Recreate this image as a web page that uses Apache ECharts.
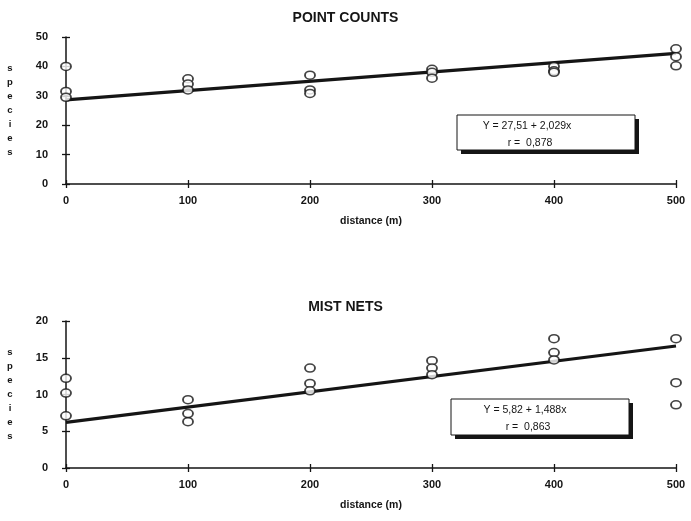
<!DOCTYPE html>
<html><head><meta charset="utf-8">
<script src="https://cdn.jsdelivr.net/npm/echarts/dist/echarts.min.js"></script>
<style>html,body{margin:0;padding:0;background:#fff}#c{width:691px;height:521px}</style>
</head><body><div id="c"></div>
<script>
// ---- data ----
const distances = [0, 100, 200, 300, 400, 500];
// POINT COUNTS (three replicate counts per distance)
const pcRep1 = [40, 35.8, 37, 39, 40, 46];
const pcRep2 = [31.5, 34, 32, 38, 38.5, 43.3];
const pcRep3 = [29.5, 32, 30.8, 36, 38, 40.2];
const pcFitX = [0, 500];
const pcFitY = [28.6, 44.4];
const pcEquation = ['Y = 27,51 + 2,029x', 'r =  0,878'];
// MIST NETS
const mnRep1 = [12.2, 9.3, 13.6, 14.6, 17.6, 17.6];
const mnRep2 = [10.2, 7.4, 11.5, 13.6, 15.7, 11.6];
const mnRep3 = [7.1, 6.3, 10.5, 12.7, 14.7, 8.6];
const mnFitX = [0, 500];
const mnFitY = [6.2, 16.6];
const mnEquation = ['Y = 5,82 + 1,488x', 'r =  0,863'];
const titles = ['POINT COUNTS', 'MIST NETS'];
const xName = 'distance (m)';
const yName = 'species';

// ---- build ----
const FONT = "'Liberation Sans', Arial, sans-serif";
const INK = '#151515';
function pts(reps) {
  const out = [];
  reps.forEach(r => r.forEach((v, i) => out.push([distances[i], v])));
  return out;
}
function pairs(xs, ys) { return xs.map((x, i) => [x, ys[i]]); }

const grids = [
  { left: 66, right: 15, top: 37, height: 147 },
  { left: 66, right: 15, top: 321, height: 147 }
];
const yCfg = [{ max: 50, interval: 10 }, { max: 20, interval: 5 }];

const xAxes = [], yAxes = [];
grids.forEach((g, gi) => {
  xAxes.push({
    type: 'value', gridIndex: gi, min: 0, max: 500, interval: 100,
    name: xName, nameLocation: 'middle', nameGap: 32,
    nameTextStyle: { fontFamily: FONT, fontSize: 10.5, fontWeight: 'bold', color: INK },
    axisLine: { show: true, lineStyle: { color: INK, width: 1.5 } },
    axisTick: { show: true, length: 4, lineStyle: { color: INK, width: 1.3 } },
    axisLabel: { margin: 11, fontFamily: FONT, fontSize: 11, fontWeight: 'bold', color: INK },
    splitLine: { show: false }
  });
  xAxes.push({
    type: 'value', gridIndex: gi, min: 0, max: 500, interval: 100, position: 'bottom',
    axisLine: { show: false }, axisLabel: { show: false }, splitLine: { show: false },
    axisTick: { show: true, inside: true, length: 4, lineStyle: { color: INK, width: 1.3 } }
  });
  yAxes.push({
    type: 'value', gridIndex: gi, min: 0, max: yCfg[gi].max, interval: yCfg[gi].interval,
    name: yName.split('').join('\n'), nameLocation: 'middle', nameRotate: 0, nameGap: 56,
    nameTextStyle: { fontFamily: FONT, fontSize: 9.5, fontWeight: 'bold', color: INK, lineHeight: 14, align: 'center' },
    axisLine: { show: true, lineStyle: { color: INK, width: 1.5 } },
    axisTick: { show: true, length: 4, lineStyle: { color: INK, width: 1.3 } },
    axisLabel: { margin: 18, fontFamily: FONT, fontSize: 11, fontWeight: 'bold', color: INK },
    splitLine: { show: false }
  });
  yAxes.push({
    type: 'value', gridIndex: gi, min: 0, max: yCfg[gi].max, interval: yCfg[gi].interval, position: 'left',
    axisLine: { show: false }, axisLabel: { show: false }, splitLine: { show: false },
    axisTick: { show: true, inside: true, length: 4, lineStyle: { color: INK, width: 1.3 } }
  });
});

function scatter(gi, reps) {
  return {
    type: 'scatter', xAxisIndex: gi * 2, yAxisIndex: gi * 2, data: pts(reps), clip: false,
    symbol: 'circle', symbolSize: [10, 8], z: 5,
    itemStyle: { color: '#fff', borderColor: INK, borderWidth: 1.7 }
  };
}
function fit(gi, xs, ys) {
  return {
    type: 'line', xAxisIndex: gi * 2, yAxisIndex: gi * 2, data: pairs(xs, ys), showSymbol: false,
    symbol: 'none', z: 4, lineStyle: { color: INK, width: 3.2 }
  };
}

function eqBox(x, y, w, h, lines, textCx) {
  return [
    { type: 'rect', shape: { x: x + 4, y: y + 4, width: w, height: h }, style: { fill: INK }, z: 10 },
    { type: 'rect', shape: { x: x, y: y, width: w, height: h }, style: { fill: '#fff', stroke: INK, lineWidth: 1 }, z: 11 },
    { type: 'text', x: textCx, y: y + 11, z: 12, style: { text: lines[0], fill: INK, font: '10.5px ' + FONT, textAlign: 'center', textVerticalAlign: 'middle' } },
    { type: 'text', x: textCx + 3, y: y + 28, z: 12, style: { text: lines[1], fill: INK, font: '10.5px ' + FONT, textAlign: 'center', textVerticalAlign: 'middle' } }
  ];
}

const chart = echarts.init(document.getElementById('c'), null, { renderer: 'canvas' });
chart.setOption({
  backgroundColor: '#fff',
  animation: false,
  title: [
    { text: titles[0], left: 'center', top: 6, textStyle: { fontFamily: FONT, fontSize: 14, fontWeight: 'bold', color: INK } },
    { text: titles[1], left: 'center', top: 295, textStyle: { fontFamily: FONT, fontSize: 14, fontWeight: 'bold', color: INK } }
  ],
  grid: grids,
  xAxis: xAxes,
  yAxis: yAxes,
  series: [
    fit(0, pcFitX, pcFitY), scatter(0, [pcRep1, pcRep2, pcRep3]),
    fit(1, mnFitX, mnFitY), scatter(1, [mnRep1, mnRep2, mnRep3])
  ],
  graphic: [].concat(
    eqBox(457, 115, 178, 35, pcEquation, 527),
    eqBox(451, 399, 178, 36, mnEquation, 525)
  )
});
</script></body></html>
